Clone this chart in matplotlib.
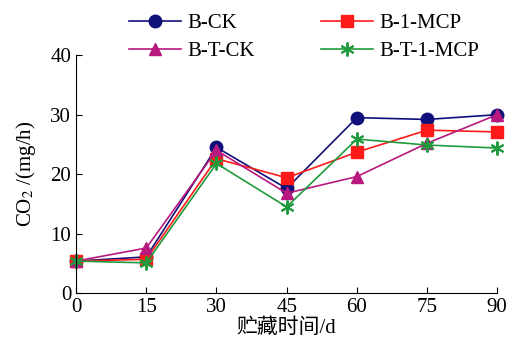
import matplotlib
matplotlib.use("Agg")
from matplotlib import pyplot as plt

days = [0, 15, 30, 45, 60, 75, 90]
b_ck = [5.4, 6.1, 24.5, 17.6, 29.5, 29.2, 30.0]
b_1mcp = [5.4, 5.7, 22.6, 19.4, 23.7, 27.4, 27.1]
b_t_ck = [5.4, 7.6, 24.0, 16.8, 19.6, 25.2, 30.0]
b_t_1mcp = [5.4, 5.1, 21.8, 14.5, 25.9, 24.9, 24.4]

labels = ["B-CK", "B-1-MCP", "B-T-CK", "B-T-1-MCP"]
series = [b_ck, b_1mcp, b_t_ck, b_t_1mcp]
colors = ["#10107a", "#ff1a1a", "#b8197e", "#1f9a3c"]
markers = ["o", "s", "^", (6, 2, 0)]

plt.rcParams["font.family"] = ["Liberation Serif", "Noto Sans CJK SC"]
plt.rcParams["mathtext.fontset"] = "stix"

fig = plt.figure(figsize=(5.11, 3.47), dpi=100)
ax = fig.add_axes([0.149, 0.155, 0.824, 0.686])

handles = []
for y, lab, c, m in zip(series, labels, colors, markers):
    star = isinstance(m, tuple)
    h, = ax.plot(days, y, color=c, marker=m, markersize=10 if star else 9,
                 lw=1.2, markeredgewidth=1.4 if star else 1,
                 label=lab, clip_on=False)
    handles.append(h)

ax.set_xlim(0, 90)
ax.set_ylim(0, 40)
ax.set_xticks(days)
ax.set_yticks([0, 10, 20, 30, 40])
ax.tick_params(direction="in", labelsize=15, length=4)
ax.spines["top"].set_visible(False)
ax.spines["right"].set_visible(False)
ax.set_xlabel("贮藏时间/d", fontsize=15, labelpad=1)
ax.set_ylabel("CO$_2$ /(mg/h)", fontsize=15, labelpad=9)

order = [0, 2, 1, 3]
fig.legend([handles[i] for i in order], [labels[i] for i in order],
           ncol=2, frameon=False, fontsize=15, handlelength=2.5,
           handletextpad=0.3, columnspacing=3.2, labelspacing=0.4,
           loc="upper left", bbox_to_anchor=(0.215, 1.015))

fig.savefig("out.png", dpi=100)
